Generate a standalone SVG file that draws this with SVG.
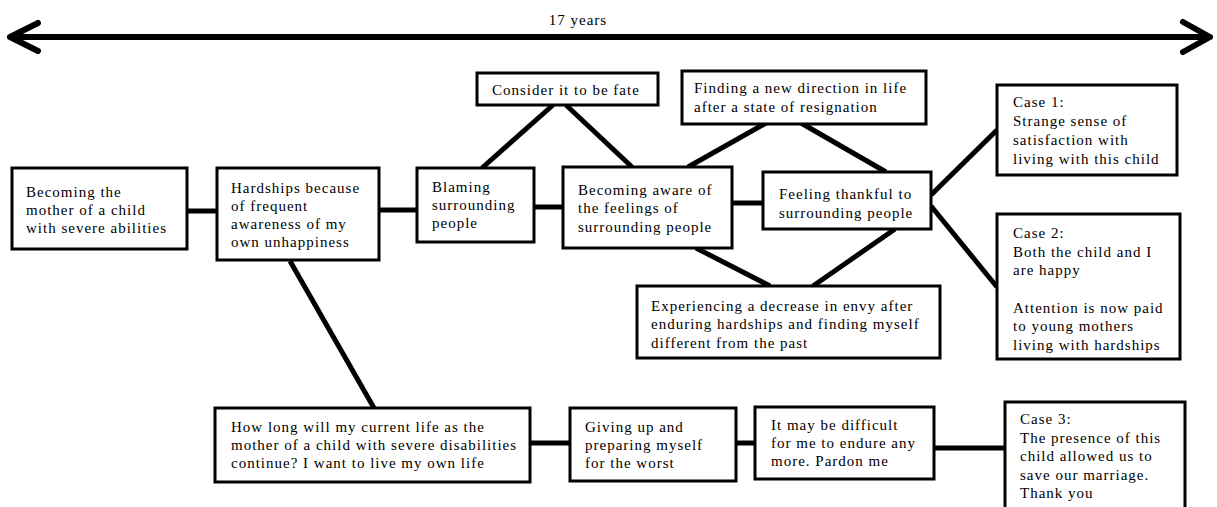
<svg xmlns="http://www.w3.org/2000/svg" width="1217" height="507" viewBox="0 0 1217 507">
<style>
.box{fill:#fff;stroke:#000;stroke-width:3}
.t{font-family:"Liberation Serif","Times New Roman",serif;font-size:15px;letter-spacing:1px;fill:#000}
.c{stroke:#000;stroke-width:5;fill:none}
.ar{stroke:#000;stroke-width:6;fill:none;stroke-linecap:round;stroke-linejoin:round}
</style>
<rect width="1217" height="507" fill="#fff"/>
<g id="timeline">
<path class="ar" d="M10 37H1210M38 23L10 37L38 51M1183 22L1210 37L1183 52"/>
<text class="t" x="578" y="25" text-anchor="middle" letter-spacing="0">17 years</text>
</g>
<g id="connectors">
<line class="c" x1="187" y1="211" x2="217" y2="211"/>
<line class="c" x1="379" y1="210" x2="417" y2="210"/>
<line class="c" x1="482" y1="168" x2="553" y2="105"/>
<line class="c" x1="566" y1="105" x2="632" y2="167"/>
<line class="c" x1="534" y1="207" x2="563" y2="207"/>
<line class="c" x1="688" y1="167" x2="766" y2="123"/>
<line class="c" x1="801" y1="123" x2="886" y2="172"/>
<line class="c" x1="732" y1="203" x2="763" y2="203"/>
<line class="c" x1="696" y1="248" x2="770" y2="286"/>
<line class="c" x1="813" y1="286" x2="895" y2="229"/>
<line class="c" x1="931" y1="195" x2="997" y2="130"/>
<line class="c" x1="931" y1="206" x2="997" y2="287"/>
<line class="c" x1="290" y1="261" x2="374" y2="408"/>
<line class="c" x1="530" y1="443" x2="570" y2="443"/>
<line class="c" x1="736" y1="443" x2="755" y2="443"/>
<line class="c" x1="934" y1="448" x2="1005" y2="448"/>
</g>
<g id="n1"><rect class="box" x="12" y="168" width="175" height="81"/>
<text class="t" x="26" y="197">Becoming the</text><text class="t" x="26" y="215">mother of a child</text><text class="t" x="26" y="233">with severe abilities</text></g>
<g id="n2"><rect class="box" x="217" y="168" width="162" height="92"/>
<text class="t" x="231" y="193">Hardships because</text><text class="t" x="231" y="211">of frequent</text><text class="t" x="231" y="229">awareness of my</text><text class="t" x="231" y="247">own unhappiness</text></g>
<g id="n3"><rect class="box" x="417" y="168" width="117" height="74"/>
<text class="t" x="432" y="192">Blaming</text><text class="t" x="432" y="210">surrounding</text><text class="t" x="432" y="228">people</text></g>
<g id="n4"><rect class="box" x="477" y="73" width="181" height="32"/>
<text class="t" x="492" y="95">Consider it to be fate</text></g>
<g id="n5"><rect class="box" x="563" y="167" width="169" height="81"/>
<text class="t" x="578" y="195">Becoming aware of</text><text class="t" x="578" y="213">the feelings of</text><text class="t" x="578" y="232">surrounding people</text></g>
<g id="n6"><rect class="box" x="682" y="71" width="244" height="53"/>
<text class="t" x="694" y="93">Finding a new direction in life</text><text class="t" x="694" y="112">after a state of resignation</text></g>
<g id="n7"><rect class="box" x="763" y="172" width="168" height="57"/>
<text class="t" x="779" y="199">Feeling thankful to</text><text class="t" x="779" y="218">surrounding people</text></g>
<g id="n8"><rect class="box" x="637" y="286" width="303" height="72"/>
<text class="t" x="651" y="311">Experiencing a decrease in envy after</text><text class="t" x="651" y="329">enduring hardships and finding myself</text><text class="t" x="651" y="348">different from the past</text></g>
<g id="n9"><rect class="box" x="997" y="85" width="180" height="90"/>
<text class="t" x="1013" y="107">Case 1:</text><text class="t" x="1013" y="126">Strange sense of</text><text class="t" x="1013" y="145">satisfaction with</text><text class="t" x="1013" y="164">living with this child</text></g>
<g id="n10"><rect class="box" x="997" y="214" width="183" height="145"/>
<text class="t" x="1013" y="238">Case 2:</text><text class="t" x="1013" y="257">Both the child and I</text><text class="t" x="1013" y="275">are happy</text><text class="t" x="1013" y="313">Attention is now paid</text><text class="t" x="1013" y="331">to young mothers</text><text class="t" x="1013" y="350">living with hardships</text></g>
<g id="n11"><rect class="box" x="215" y="408" width="315" height="74"/>
<text class="t" x="231" y="432">How long will my current life as the</text><text class="t" x="231" y="450">mother of a child with severe disabilities</text><text class="t" x="231" y="468">continue? I want to live my own life</text></g>
<g id="n12"><rect class="box" x="570" y="408" width="166" height="73"/>
<text class="t" x="585" y="432">Giving up and</text><text class="t" x="585" y="450">preparing myself</text><text class="t" x="585" y="468">for the worst</text></g>
<g id="n13"><rect class="box" x="755" y="407" width="179" height="72"/>
<text class="t" x="771" y="430">It may be difficult</text><text class="t" x="771" y="448">for me to endure any</text><text class="t" x="771" y="466">more. Pardon me</text></g>
<g id="n14"><rect class="box" x="1005" y="402" width="180" height="112"/>
<text class="t" x="1020" y="424">Case 3:</text><text class="t" x="1020" y="443">The presence of this</text><text class="t" x="1020" y="461">child allowed us to</text><text class="t" x="1020" y="480">save our marriage.</text><text class="t" x="1020" y="498">Thank you</text></g>
</svg>
